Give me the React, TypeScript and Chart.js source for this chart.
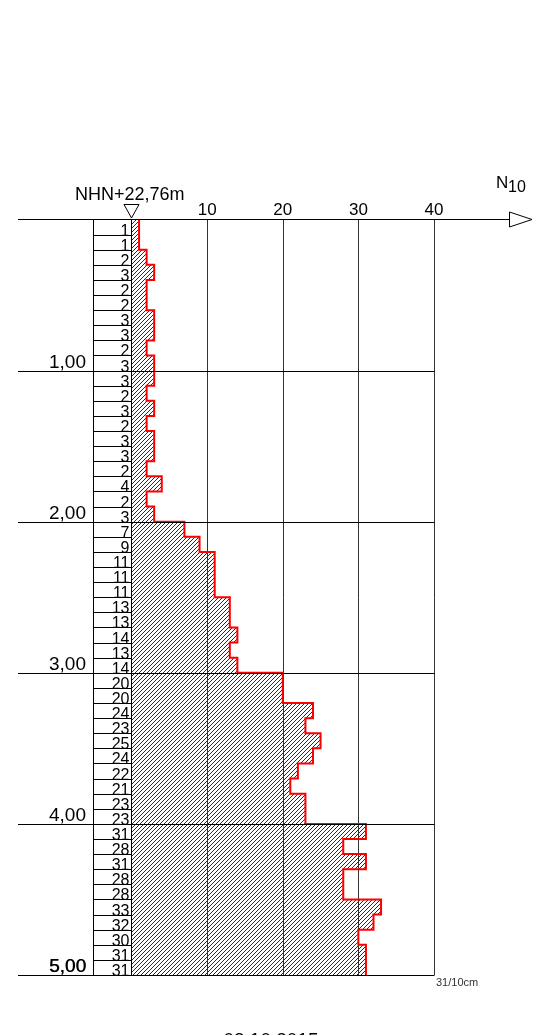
import React, { useEffect, useRef } from "react";
import { Chart, registerables } from "chart.js";

Chart.register(...registerables);

// Blow counts N10 per 10 cm interval (top to bottom)
const blowCounts = [
  1, 1, 2, 3, 2, 2, 3, 3, 2, 3,
  3, 2, 3, 2, 3, 3, 2, 4, 2, 3,
  7, 9, 11, 11, 11, 13, 13, 14, 13, 14,
  20, 20, 24, 23, 25, 24, 22, 21, 23, 23,
  31, 28, 31, 28, 28, 33, 32, 30, 31, 31,
];
// Bottom depth of each interval (m)
const intervalBottoms = [
  0.1, 0.2, 0.3, 0.4, 0.5, 0.6, 0.7, 0.8, 0.9, 1.0,
  1.1, 1.2, 1.3, 1.4, 1.5, 1.6, 1.7, 1.8, 1.9, 2.0,
  2.1, 2.2, 2.3, 2.4, 2.5, 2.6, 2.7, 2.8, 2.9, 3.0,
  3.1, 3.2, 3.3, 3.4, 3.5, 3.6, 3.7, 3.8, 3.9, 4.0,
  4.1, 4.2, 4.3, 4.4, 4.5, 4.6, 4.7, 4.8, 4.9, 5.0,
];
const intervalSize = 0.1;
const depthMarks = [1, 2, 3, 4, 5];
const depthLabels = ["1,00", "2,00", "3,00", "4,00", "5,00"];
const xTicks = [10, 20, 30, 40];
const xTickLabels = ["10", "20", "30", "40"];
const elevationLabel = "NHN+22,76m";
const finalLabel = "31/10cm";
const dateLabel = "03.10.2015";

const FONT = '"Liberation Sans", Arial, sans-serif';

export default function App() {
  const ref = useRef<HTMLCanvasElement | null>(null);

  useEffect(() => {
    const canvas = ref.current;
    if (!canvas) return;

    // hatch pattern "/"
    const tile = document.createElement("canvas");
    const s = 4;
    tile.width = s;
    tile.height = s;
    const tctx = tile.getContext("2d")!;
    tctx.strokeStyle = "#2a2a2a";
    tctx.lineWidth = 1;
    for (let k = -1; k <= 1; k++) {
      tctx.beginPath();
      tctx.moveTo(k * s, s);
      tctx.lineTo(k * s + s, 0);
      tctx.stroke();
    }
    const ctx0 = canvas.getContext("2d")!;
    const pattern = ctx0.createPattern(tile, "repeat");

    const barData = blowCounts.map((v, i) => ({
      x: v,
      y: intervalBottoms[i] - intervalSize / 2,
    }));
    const stepData: { x: number; y: number }[] = [];
    blowCounts.forEach((v, i) => {
      stepData.push({ x: v, y: intervalBottoms[i] - intervalSize });
      stepData.push({ x: v, y: intervalBottoms[i] });
    });

    const drawPlugin = {
      id: "profileDecor",
      beforeDatasetsDraw(chart: any) {
        const c = chart.ctx;
        const xs = chart.scales.x;
        const ys = chart.scales.y;
        const y0 = ys.getPixelForValue(0);
        const yB = ys.getPixelForValue(5);
        c.save();
        c.lineWidth = 1;
        c.strokeStyle = "#333";
        xTicks.forEach((t) => {
          const x = Math.round(xs.getPixelForValue(t)) + 0.5;
          c.beginPath();
          c.moveTo(x, y0);
          c.lineTo(x, yB);
          c.stroke();
        });
        c.restore();
      },
      afterDatasetsDraw(chart: any) {
        const c = chart.ctx;
        const xs = chart.scales.x;
        const ys = chart.scales.y;
        const x0 = Math.round(xs.getPixelForValue(0)) - 0.5;
        const xMax = Math.round(xs.getPixelForValue(40)) + 0.5;
        const y0 = Math.round(ys.getPixelForValue(0)) - 0.5;
        const yB = Math.round(ys.getPixelForValue(5)) + 0.5;
        const colLeft = 93.5;
        c.save();
        c.lineWidth = 1;
        c.strokeStyle = "#000";
        // top axis line
        c.beginPath();
        c.moveTo(18, y0);
        c.lineTo(509, y0);
        c.stroke();
        // arrow
        c.beginPath();
        c.moveTo(509.5, y0 - 7.5);
        c.lineTo(532, y0);
        c.lineTo(509.5, y0 + 7.5);
        c.closePath();
        c.fillStyle = "#fff";
        c.fill();
        c.stroke();
        // column borders
        [colLeft, x0].forEach((x) => {
          c.beginPath();
          c.moveTo(x, y0);
          c.lineTo(x, yB);
          c.stroke();
        });
        // meter lines
        depthMarks.forEach((d) => {
          const y = Math.round(ys.getPixelForValue(d)) + 0.5;
          c.beginPath();
          c.moveTo(18, y);
          c.lineTo(xMax, y);
          c.stroke();
        });
        // cell separators
        intervalBottoms.forEach((d) => {
          const y = Math.round(ys.getPixelForValue(d)) + 0.5;
          c.beginPath();
          c.moveTo(colLeft, y);
          c.lineTo(x0, y);
          c.stroke();
        });
        // blow count numbers
        c.fillStyle = "#000";
        c.font = `16px ${FONT}`;
        c.textAlign = "right";
        c.textBaseline = "alphabetic";
        blowCounts.forEach((v, i) => {
          const y = ys.getPixelForValue(intervalBottoms[i]);
          c.fillText(String(v), x0 - 2, y + 1);
        });
        // depth labels
        c.font = `19px ${FONT}`;
        depthMarks.forEach((d, i) => {
          const y = ys.getPixelForValue(d);
          c.fillText(depthLabels[i], 86, y - 3);
          if (i === depthMarks.length - 1) c.fillText(depthLabels[i], 86.5, y - 3);
        });
        // x tick labels
        c.font = `17px ${FONT}`;
        c.textAlign = "center";
        xTicks.forEach((t, i) => {
          c.fillText(xTickLabels[i], xs.getPixelForValue(t), y0 - 5);
        });
        // elevation label
        c.font = `18px ${FONT}`;
        c.textAlign = "left";
        c.fillText(elevationLabel, 75, 200);
        // triangle marker
        const tx = xs.getPixelForValue(0);
        c.beginPath();
        c.moveTo(tx - 7.5, 204.5);
        c.lineTo(tx + 7.5, 204.5);
        c.lineTo(tx, 218);
        c.closePath();
        c.stroke();
        // N10 axis title
        c.font = `17px ${FONT}`;
        c.fillText("N", 496, 188);
        c.font = `16px ${FONT}`;
        c.fillText("10", 508, 192);
        // final label
        c.font = `11px ${FONT}`;
        c.fillStyle = "#333";
        c.fillText(finalLabel, 436, 986);
        // date
        c.fillStyle = "#000";
        c.font = `19px ${FONT}`;
        c.textAlign = "center";
        c.fillText(dateLabel, 271, 1046);
        c.restore();
      },
    };

    const chart = new Chart(canvas, {
      type: "bar",
      data: {
        datasets: [
          {
            type: "line",
            data: stepData,
            borderColor: "#ff0000",
            borderWidth: 2,
            pointRadius: 0,
            tension: 0,
            fill: false,
            clip: false,
            order: 0,
          } as any,
          {
            type: "bar",
            data: barData,
            backgroundColor: pattern as any,
            borderWidth: 0,
            barPercentage: 1,
            categoryPercentage: 1,
            order: 1,
          } as any,
        ],
      },
      options: {
        indexAxis: "y",
        responsive: false,
        animation: false,
        devicePixelRatio: 1,
        layout: { padding: { left: 131.5, right: 99, top: 219.5, bottom: 60 } },
        plugins: { legend: { display: false }, tooltip: { enabled: false } },
        scales: {
          x: { type: "linear", min: 0, max: 40, display: false, offset: false },
          y: { type: "linear", min: 0, max: 5, reverse: true, display: false, offset: false },
        },
      } as any,
      plugins: [drawPlugin],
    });
    return () => chart.destroy();
  }, []);

  return (
    <div style={{ position: "absolute", left: 0, top: 0, width: 533, height: 1035, background: "#fff" }}>
      <canvas ref={ref} width={533} height={1035} style={{ display: "block" }} />
    </div>
  );
}
